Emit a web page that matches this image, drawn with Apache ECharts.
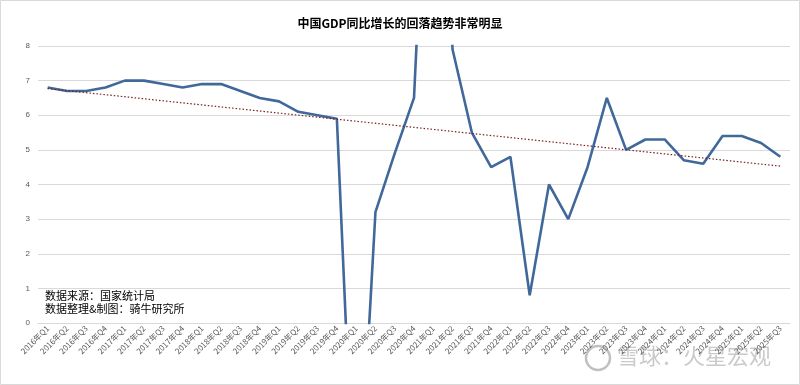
<!DOCTYPE html>
<html>
<head>
<meta charset="utf-8">
<script src="https://cdn.jsdelivr.net/npm/echarts@6/dist/echarts.min.js"></script>
<style>html,body{margin:0;padding:0;background:#fff}#c{width:800px;height:385px}</style>
</head>
<body>
<div id="c"></div>
<script>
const categories = [
  '2016年Q1','2016年Q2','2016年Q3','2016年Q4',
  '2017年Q1','2017年Q2','2017年Q3','2017年Q4',
  '2018年Q1','2018年Q2','2018年Q3','2018年Q4',
  '2019年Q1','2019年Q2','2019年Q3','2019年Q4',
  '2020年Q1','2020年Q2','2020年Q3','2020年Q4',
  '2021年Q1','2021年Q2','2021年Q3','2021年Q4',
  '2022年Q1','2022年Q2','2022年Q3','2022年Q4',
  '2023年Q1','2023年Q2','2023年Q3','2023年Q4',
  '2024年Q1','2024年Q2','2024年Q3','2024年Q4',
  '2025年Q1','2025年Q2','2025年Q3'
];
const gdpGrowth = [
  6.8, 6.7, 6.7, 6.8,
  7.0, 7.0, 6.9, 6.8,
  6.9, 6.9, 6.7, 6.5,
  6.4, 6.1, 6.0, 5.9,
  -6.8, 3.2, 4.9, 6.5,
  18.3, 7.9, 5.5, 4.5,
  4.8, 0.8, 4.0, 3.0,
  4.5, 6.5, 5.0, 5.3,
  5.3, 4.7, 4.6, 5.4,
  5.4, 5.2, 4.8
];
const trendStart = 6.77;
const trendEnd = 4.53;
const yTicks = [0, 1, 2, 3, 4, 5, 6, 7, 8];
const titleText = '中国GDP同比增长的回落趋势非常明显';
const noteLines = ['数据来源：国家统计局', '数据整理&制图：骑牛研究所'];
const watermark = '雪球：火星宏观';

const trendData = categories.map((c, i) => i === 0 ? trendStart : (i === categories.length - 1 ? trendEnd : null));

const chart = echarts.init(document.getElementById('c'), null, {renderer: 'canvas'});
chart.setOption({
  animation: false,
  backgroundColor: '#fff',
  title: {
    text: titleText,
    left: 'center',
    top: 12,
    textStyle: {fontFamily: 'Noto Sans CJK SC', fontSize: 12, fontWeight: 'bold', color: '#000'}
  },
  grid: {left: 38, right: 10, top: 46, bottom: 62, containLabel: false},
  xAxis: {
    type: 'category',
    data: categories,
    boundaryGap: true,
    axisLine: {lineStyle: {color: '#d9d9d9'}},
    axisTick: {show: false},
    axisLabel: {
      interval: 0, rotate: 45, fontSize: 8, color: '#595959', margin: 4,
      fontFamily: 'Noto Sans CJK SC'
    }
  },
  yAxis: {
    type: 'value',
    min: yTicks[0], max: yTicks[yTicks.length - 1], interval: 1,
    axisLine: {show: false},
    axisTick: {show: false},
    splitLine: {lineStyle: {color: '#d9d9d9', width: 1}},
    axisLabel: {fontSize: 8, color: '#595959', margin: 8, fontFamily: 'Liberation Sans'}
  },
  series: [
    {
      type: 'line',
      data: gdpGrowth,
      clip: true,
      symbol: 'none',
      lineStyle: {color: '#41689a', width: 2.6},
      z: 2
    },
    {
      type: 'line',
      data: trendData,
      connectNulls: true,
      clip: true,
      symbol: 'none',
      lineStyle: {color: '#7a1f1f', width: 1.2, type: [1.5, 2]},
      z: 3
    }
  ],
  graphic: [
    {type: 'rect', shape: {x: 0.5, y: 0.5, width: 799, height: 384}, style: {fill: 'none', stroke: '#d9d9d9', lineWidth: 1}, silent: true},
    {type: 'text', left: 45, top: 290, style: {text: noteLines[0], font: '11px "Noto Sans CJK SC"', fill: '#000'}},
    {type: 'text', left: 45, top: 303, style: {text: noteLines[1], font: '11px "Noto Sans CJK SC"', fill: '#000'}},
    {type: 'circle', shape: {cx: 598, cy: 358, r: 12}, style: {fill: 'none', stroke: 'rgba(140,140,140,0.55)', lineWidth: 2.5}, silent: true},
    {type: 'text', left: 617, top: 345, style: {text: watermark, font: '22px "Noto Sans CJK SC"', fill: 'rgba(150,150,150,0.5)'}, silent: true}
  ]
});
</script>
</body>
</html>
